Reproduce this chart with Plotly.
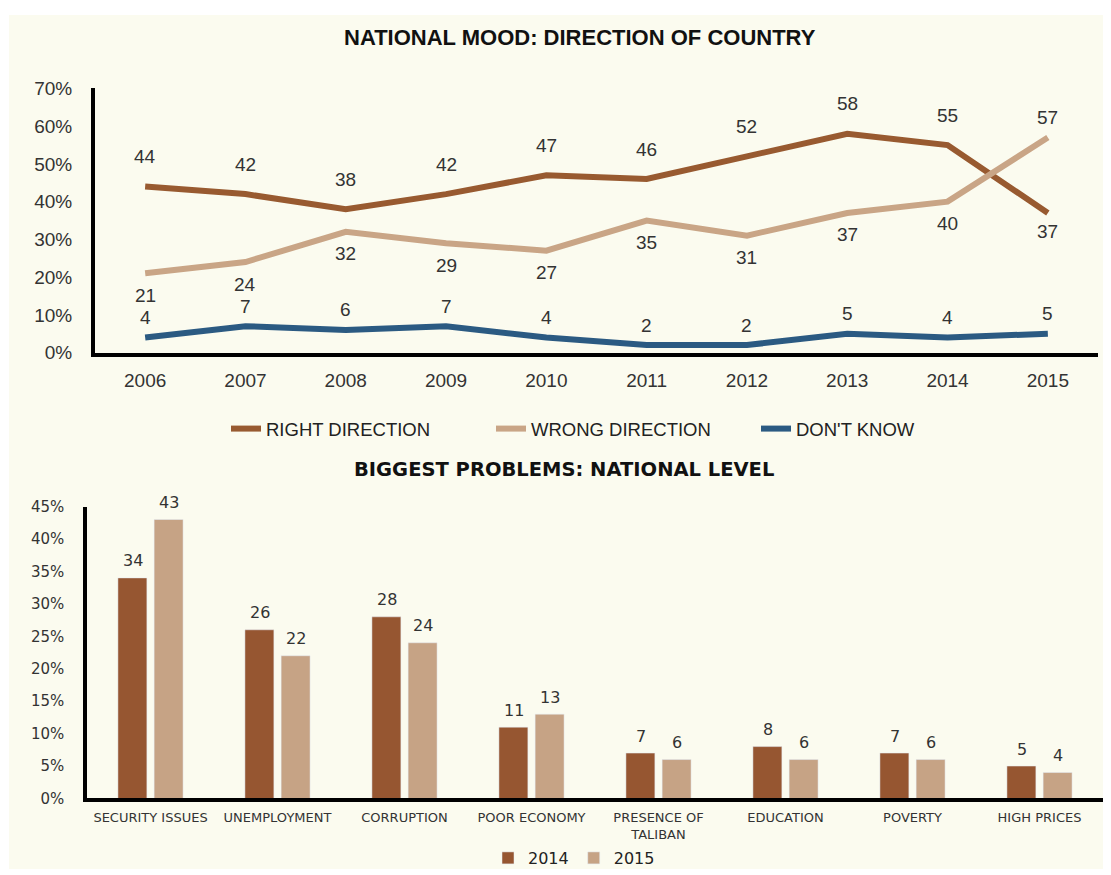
import plotly.graph_objects as go

# ---------------- data ----------------
years = [2006, 2007, 2008, 2009, 2010, 2011, 2012, 2013, 2014, 2015]
right_direction = [44, 42, 38, 42, 47, 46, 52, 58, 55, 37]
wrong_direction = [21, 24, 32, 29, 27, 35, 31, 37, 40, 57]
dont_know = [4, 7, 6, 7, 4, 2, 2, 5, 4, 5]

problems = ["SECURITY ISSUES", "UNEMPLOYMENT", "CORRUPTION", "POOR ECONOMY",
            "PRESENCE OF<br>TALIBAN", "EDUCATION", "POVERTY", "HIGH PRICES"]
problems_2014 = [34, 26, 28, 11, 7, 8, 7, 5]
problems_2015 = [43, 22, 24, 13, 6, 6, 6, 4]

top_ticks = [0, 10, 20, 30, 40, 50, 60, 70]
bar_ticks = [0, 5, 10, 15, 20, 25, 30, 35, 40, 45]

# ---------------- style ----------------
OFF = 8  # page body margin
W, H = 1111 - OFF, 875 - OFF
C_RIGHT = "#985A30"
C_WRONG = "#C9A586"
C_DK = "#2B5A82"
C_2014 = "#965631"
C_2015 = "#C6A385"
CREAM = "#FBFBEF"
TXT = "#333333"
SANS = "Liberation Sans, Arial, sans-serif"
WIDE = "DejaVu Sans, Verdana, sans-serif"


def px_x(p):
    return (p - OFF) / W


def px_y(p):
    return 1 - (p - OFF) / H


fig = go.Figure()

series = [
    ("RIGHT DIRECTION", right_direction, C_RIGHT),
    ("WRONG DIRECTION", wrong_direction, C_WRONG),
    ("DON'T KNOW", dont_know, C_DK),
]
for name, vals, col in series:
    fig.add_trace(go.Scatter(
        x=years, y=vals, name=name, mode="lines",
        line=dict(color=col, width=6),
        xaxis="x", yaxis="y", legend="legend", hoverinfo="x+y+name",
    ))

fig.add_trace(go.Bar(
    x=problems, y=problems_2014, name="2014", marker_color=C_2014,
    xaxis="x2", yaxis="y2", legend="legend2",
))
fig.add_trace(go.Bar(
    x=problems, y=problems_2015, name="2015", marker_color=C_2015,
    xaxis="x2", yaxis="y2", legend="legend2",
))

annotations = []
# line chart value labels
n = len(years)
for i, (yr, v) in enumerate(zip(years, right_direction)):
    shift = 30 if i < n - 1 else -19
    annotations.append(dict(x=yr, y=v, xref="x", yref="y", text=str(v),
                            showarrow=False, yshift=shift,
                            font=dict(family=SANS, size=19, color=TXT)))
for i, (yr, v) in enumerate(zip(years, wrong_direction)):
    shift = -22 if i < n - 1 else 20
    annotations.append(dict(x=yr, y=v, xref="x", yref="y", text=str(v),
                            showarrow=False, yshift=shift,
                            font=dict(family=SANS, size=19, color=TXT)))
for yr, v in zip(years, dont_know):
    annotations.append(dict(x=yr, y=v, xref="x", yref="y", text=str(v),
                            showarrow=False, yshift=20,
                            font=dict(family=SANS, size=19, color=TXT)))
# bar value labels
for cat, v in zip(problems, problems_2014):
    annotations.append(dict(x=cat, y=v, xref="x2", yref="y2", text=str(v),
                            showarrow=False, yshift=17, xshift=-18,
                            font=dict(family=WIDE, size=16, color=TXT)))
for cat, v in zip(problems, problems_2015):
    annotations.append(dict(x=cat, y=v, xref="x2", yref="y2", text=str(v),
                            showarrow=False, yshift=17, xshift=18,
                            font=dict(family=WIDE, size=16, color=TXT)))
# titles
annotations.append(dict(x=px_x(580), y=px_y(38), xref="paper", yref="paper",
                        text="<b>NATIONAL MOOD: DIRECTION OF COUNTRY</b>",
                        showarrow=False, xanchor="center", yanchor="middle",
                        font=dict(family=SANS, size=22, color="#111111")))
annotations.append(dict(x=px_x(564), y=px_y(473), xref="paper", yref="paper",
                        text="<b>BIGGEST PROBLEMS: NATIONAL LEVEL</b>",
                        showarrow=False, xanchor="center", yanchor="middle",
                        font=dict(family=WIDE, size=19.5, color="#111111")))

fig.update_layout(
    width=W, height=H,
    margin=dict(l=0, r=0, t=0, b=0),
    paper_bgcolor="white",
    plot_bgcolor="rgba(0,0,0,0)",
    barmode="group", bargap=0.43, bargroupgap=0.2,
    annotations=annotations,
    shapes=[dict(type="rect", xref="paper", yref="paper",
                 x0=px_x(9), x1=1, y0=0, y1=px_y(15),
                 fillcolor=CREAM, line_width=0, layer="below")],
    xaxis=dict(domain=[px_x(95), px_x(1098)], range=[2005.5, 2015.5],
               tickvals=years, ticks="", showgrid=False, zeroline=False,
               showline=True, linecolor="black", linewidth=4,
               tickfont=dict(family=SANS, size=19, color=TXT),
               ticklabelstandoff=8, automargin=False),
    yaxis=dict(domain=[px_y(355), px_y(89)], range=[0, 70],
               tickvals=top_ticks, ticktext=[f"{t}%" for t in top_ticks],
               ticks="", showgrid=False,
               zeroline=False, showline=True, linecolor="black", linewidth=4,
               tickfont=dict(family=SANS, size=19, color=TXT),
               ticklabelstandoff=15, automargin=False),
    xaxis2=dict(domain=[px_x(87), px_x(1103)], anchor="y2",
                range=[-0.5, len(problems) - 0.5],
                ticks="", showgrid=False, zeroline=False,
                showline=True, linecolor="black", linewidth=3.5,
                tickfont=dict(family=WIDE, size=13, color=TXT),
                ticklabelstandoff=4, automargin=False, tickangle=0),
    yaxis2=dict(domain=[px_y(804), px_y(510)], anchor="x2", range=[0, 45],
                tickvals=bar_ticks, ticktext=[f"{t}%" for t in bar_ticks],
                ticks="", showgrid=False,
                zeroline=False, showline=True, linecolor="black", linewidth=3.5,
                tickfont=dict(family=WIDE, size=15, color=TXT),
                ticklabelstandoff=16, automargin=False),
    legend=dict(orientation="h", x=px_x(226), xanchor="left",
                y=px_y(432), yanchor="middle", bgcolor="rgba(0,0,0,0)",
                font=dict(family=SANS, size=18.5, color="#222222"),
                entrywidth=220, traceorder="normal"),
    legend2=dict(orientation="h", x=px_x(574), xanchor="center",
                 y=px_y(864), yanchor="middle", bgcolor="rgba(0,0,0,0)",
                 font=dict(family=WIDE, size=16, color="#222222"),
                 traceorder="normal"),
)

fig.write_html("out.html")
